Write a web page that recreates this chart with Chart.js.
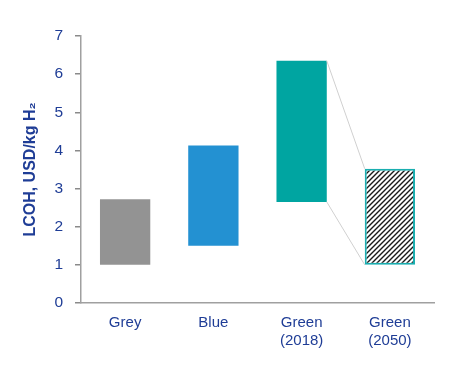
<!DOCTYPE html>
<html><head><meta charset="utf-8">
<script src="https://cdn.jsdelivr.net/npm/chart.js@4/dist/chart.umd.min.js"></script>
<style>html,body{margin:0;padding:0;background:#fff}canvas{display:block}</style>
</head><body>
<canvas id="c" width="475" height="368"></canvas>
<script>
const categories = [["Grey"], ["Blue"], ["Green", "(2018)"], ["Green", "(2050)"]];
const lowValues  = [1.0, 1.5, 2.65, 1.0];
const highValues = [2.72, 4.13, 6.35, 3.52];
const yTicks = [0, 1, 2, 3, 4, 5, 6, 7];
const axisTitle = "LCOH, USD/kg H\u2082";

const textColor = '#1f3d96';

function hatch() {
  const s = 5;
  const p = document.createElement('canvas');
  p.width = s; p.height = s;
  const g = p.getContext('2d');
  g.fillStyle = '#fff'; g.fillRect(0, 0, s, s);
  g.strokeStyle = '#1a1a1a'; g.lineWidth = 1.4;
  g.beginPath();
  g.moveTo(-1, s + 1); g.lineTo(s + 1, -1);
  g.moveTo(-1, 1); g.lineTo(1, -1);
  g.moveTo(s - 1, s + 1); g.lineTo(s + 1, s - 1);
  g.stroke();
  return g.createPattern(p, 'repeat');
}

const connector = {
  id: 'connector',
  afterDatasetsDraw(chart) {
    const meta = chart.getDatasetMeta(0).data;
    const a = meta[2], b = meta[3];
    const ctx = chart.ctx;
    const aR = a.x + a.width / 2, bL = b.x - b.width / 2;
    const aTop = Math.min(a.y, a.base), aBot = Math.max(a.y, a.base);
    const bTop = Math.min(b.y, b.base), bBot = Math.max(b.y, b.base);
    ctx.save();
    ctx.strokeStyle = '#d0d0d0';
    ctx.lineWidth = 1;
    ctx.beginPath();
    ctx.moveTo(aR, aTop); ctx.lineTo(bL, bTop);
    ctx.moveTo(aR, aBot); ctx.lineTo(bL, bBot);
    ctx.stroke();
    ctx.restore();
  }
};

new Chart(document.getElementById('c'), {
  type: 'bar',
  data: {
    labels: categories,
    datasets: [{
      data: lowValues.map((v, i) => [v, highValues[i]]),
      backgroundColor: ['#939393', '#2391d2', '#00a5a1', hatch()],
      borderColor: ['#939393', '#2391d2', '#00a5a1', '#1aaeb0'],
      borderWidth: [0, 0, 0, 2],
      borderSkipped: false,
      barPercentage: 0.57,
      categoryPercentage: 1.0
    }]
  },
  options: {
    responsive: false,
    animation: false,
    layout: { padding: { top: 36, right: 41, left: 0, bottom: 0 } },
    plugins: { legend: { display: false }, tooltip: { enabled: false } },
    scales: {
      x: {
        afterFit(s) { s.height = 65; },
        grid: { display: false, drawTicks: false },
        border: { display: true, color: '#a0a0a0', width: 1.5 },
        ticks: { color: textColor, font: { family: 'Liberation Sans, Arial', size: 15 }, padding: 11, lineHeight: 1.2 }
      },
      y: {
        min: 0, max: 7,
        afterFit(s) { s.width = 81; },
        afterBuildTicks(s) { s.ticks = yTicks.map(v => ({ value: v })); },
        grid: { display: true, drawOnChartArea: false, drawTicks: true, tickLength: 6, color: '#8a8a8a', lineWidth: 1.5 },
        border: { display: true, color: '#a0a0a0', width: 1.5 },
        ticks: { color: textColor, font: { family: 'Liberation Sans, Arial', size: 15.5 }, padding: 12 },
        title: {
          display: true, text: axisTitle, color: textColor,
          font: { family: 'Liberation Sans, Arial', size: 16, weight: 'bold' },
          padding: { top: 21, bottom: 0 }
        }
      }
    }
  },
  plugins: [connector]
});
</script>
</body></html>
